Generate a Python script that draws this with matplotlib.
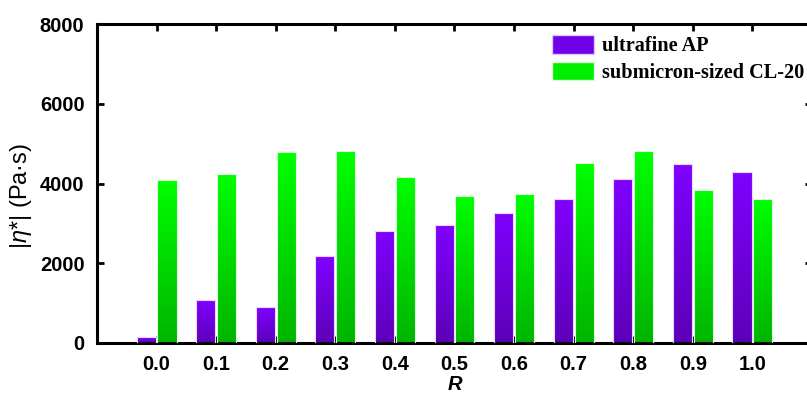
import matplotlib
matplotlib.use("Agg")
import matplotlib.pyplot as plt
import numpy as np
from matplotlib.colors import LinearSegmentedColormap
from matplotlib.patches import Patch

plt.rcParams['font.family'] = ['Liberation Sans', 'DejaVu Sans']
plt.rcParams['mathtext.fontset'] = 'custom'
plt.rcParams['mathtext.rm'] = 'Liberation Sans'
plt.rcParams['mathtext.it'] = 'Liberation Sans:italic'

R = [0.0, 0.1, 0.2, 0.3, 0.4, 0.5, 0.6, 0.7, 0.8, 0.9, 1.0]
ultrafine_AP = [150, 1080, 900, 2180, 2810, 2960, 3270, 3620, 4110, 4500, 4290]
submicron_CL20 = [4090, 4240, 4790, 4810, 4160, 3690, 3740, 4510, 4810, 3830, 3620]
series_names = ["ultrafine AP", "submicron-sized CL-20"]

fig = plt.figure(figsize=(8.07, 3.94), dpi=100)
ax = fig.add_axes([97/807, 51/394, 715/807, 319/394])

x = np.array(R)
w = 0.032
off = 0.0175
cm_p = LinearSegmentedColormap.from_list('p', ['#5c00b8', '#8000ff'])
cm_g = LinearSegmentedColormap.from_list('g', ['#00b400', '#00ff00'])

bars_p = ax.bar(x - off, ultrafine_AP, w, color='#7000e0', edgecolor='none')
bars_g = ax.bar(x + off, submicron_CL20, w, color='#00e000', edgecolor='none')

grad = np.linspace(0, 1, 256).reshape(-1, 1)
for bars, cmap in ((bars_p, cm_p), (bars_g, cm_g)):
    for b in bars:
        bx, by = b.get_x(), b.get_y()
        bw, bh = b.get_width(), b.get_height()
        im = ax.imshow(grad, cmap=cmap, origin='lower', aspect='auto',
                       extent=(bx, bx + bw, by, by + bh), zorder=2)
        im.set_clip_path(b)
        ax.bar(bx + bw/2, bh, bw, fill=False, edgecolor='#e8d8ff' if cmap is cm_p else '#d8ffd8',
               linewidth=0.8, zorder=3)

ax.set_xlim(-0.1, 1.1)
ax.set_ylim(0, 8000)
ax.set_xticks(R)
ax.set_xticklabels([f"{v:.1f}" for v in R])
ax.set_yticks([0, 2000, 4000, 6000, 8000])

for s in ax.spines.values():
    s.set_linewidth(2.2)
ax.tick_params(direction='in', length=5, width=2, top=True, right=True,
               labelsize=14.5, pad=9)
for lab in ax.get_xticklabels() + ax.get_yticklabels():
    lab.set_fontweight('bold')

ax.set_xlabel('R', fontsize=14.5, fontweight='bold', fontstyle='italic', labelpad=0)
ax.set_ylabel(r'|$\mathit{\eta}$*| (Pa·s)', fontsize=17)
ax.yaxis.set_label_coords(-0.088, 0.462)

handles = [Patch(facecolor='#7000e8', edgecolor='#d8c8ff'),
           Patch(facecolor='#00ee00', edgecolor='#d8ffd8')]
leg = ax.legend(handles, series_names, loc='upper left', bbox_to_anchor=(0.636, 0.966),
                frameon=False, prop={'family': 'Liberation Serif', 'weight': 'bold', 'size': 14.6},
                handlelength=2.08, handleheight=1.04, handletextpad=0.4, labelspacing=0.28,
                borderaxespad=0, borderpad=0)

fig.savefig('out.png', dpi=100)
